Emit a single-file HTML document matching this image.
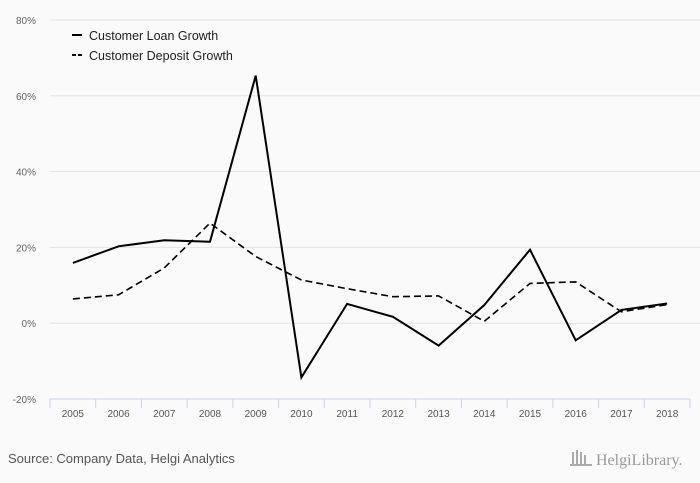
<!DOCTYPE html>
<html><head><meta charset="utf-8"><style>
html,body{margin:0;padding:0;background:#fafafa;}
svg{display:block;font-family:"Liberation Sans",sans-serif;}
</style></head><body>
<svg width="700" height="483" viewBox="0 0 700 483">
<rect width="700" height="483" fill="#fafafa"/>
<g id="grid"></g>
<g id="ylab" font-size="10" fill="#666"></g>
<g id="xaxis"></g>
<g id="series"></g>
<g>
<line x1="72" y1="35" x2="82" y2="35" stroke="#000" stroke-width="2"/>
<text x="89" y="40" font-size="12.5" fill="#222">Customer Loan Growth</text>
<line x1="72" y1="55" x2="82" y2="55" stroke="#000" stroke-width="2" stroke-dasharray="4,2"/>
<text x="89" y="60" font-size="12.5" fill="#222">Customer Deposit Growth</text>
</g>
<text x="8" y="463" font-size="13" fill="#555">Source: Company Data, Helgi Analytics</text>
<text x="596" y="465" font-size="16" fill="#999" font-family="Liberation Serif,serif">HelgiLibrary.</text>
<g fill="#aaa"><rect x="572" y="452" width="2" height="14"/><rect x="576" y="450" width="2" height="16"/><rect x="580" y="452" width="2" height="14"/><rect x="584" y="455" width="2" height="11"/><rect x="570" y="464" width="22" height="2"/></g>
<script>
const years=["2005","2006","2007","2008","2009","2010","2011","2012","2013","2014","2015","2016","2017","2018"];
const loanGrowth=[15.9,20.3,21.9,21.5,65.3,-14.3,5.1,1.7,-5.9,4.8,19.4,-4.5,3.5,5.2];
const depositGrowth=[6.4,7.5,14.6,26.4,17.6,11.4,9.1,7.0,7.2,0.5,10.5,10.9,3.0,4.9];
const yTicks=[80,60,40,20,0,-20];
const NS="http://www.w3.org/2000/svg";
const x0=50,x1=690,yTop=20,yBot=399,vMax=80,vMin=-20;
const step=(x1-x0)/years.length;
function xs(i){return x0+step*(i+0.5);}
function ys(v){return yTop+(vMax-v)/(vMax-vMin)*(yBot-yTop);}
function mk(t,a,p){const e=document.createElementNS(NS,t);for(const k in a)e.setAttribute(k,a[k]);p.appendChild(e);return e;}
const grid=document.getElementById('grid'),ylab=document.getElementById('ylab'),xa=document.getElementById('xaxis'),ser=document.getElementById('series');
yTicks.forEach(v=>{
 if(v!==vMin){const l=mk('line',{x1:x0,x2:700,y1:ys(v),y2:ys(v),stroke:'#e4e4e4','stroke-width':1},grid);
 
 }
 const t=mk('text',{x:36,y:ys(v)+4,'text-anchor':'end'},ylab);t.textContent=v+'%';
 
 
});
const ax=mk('line',{x1:x0,x2:x1,y1:yBot,y2:yBot,stroke:'#c8d4e8'},xa);


years.forEach((y,i)=>{
 const tk=mk('line',{x1:x0+step*i,x2:x0+step*i,y1:yBot,y2:yBot+9,stroke:'#c8d4e8'},xa);
 
 
 const t=mk('text',{x:xs(i),y:yBot+18,'text-anchor':'middle','font-size':10,fill:'#555'},xa);t.textContent=y;
 
 
});
const tk=mk('line',{x1:x1,x2:x1,y1:yBot,y2:yBot+9,stroke:'#c8d4e8'},xa);
function pts(a){return a.map((v,i)=>xs(i).toFixed(1)+','+ys(v).toFixed(1)).join(' ');}
const dl=mk('polyline',{points:pts(depositGrowth),fill:'none',stroke:'#000','stroke-width':1.6,'stroke-dasharray':'7,4'},ser);


const ll=mk('polyline',{points:pts(loanGrowth),fill:'none',stroke:'#000','stroke-width':2},ser);


</script>
</svg>
</body></html>
